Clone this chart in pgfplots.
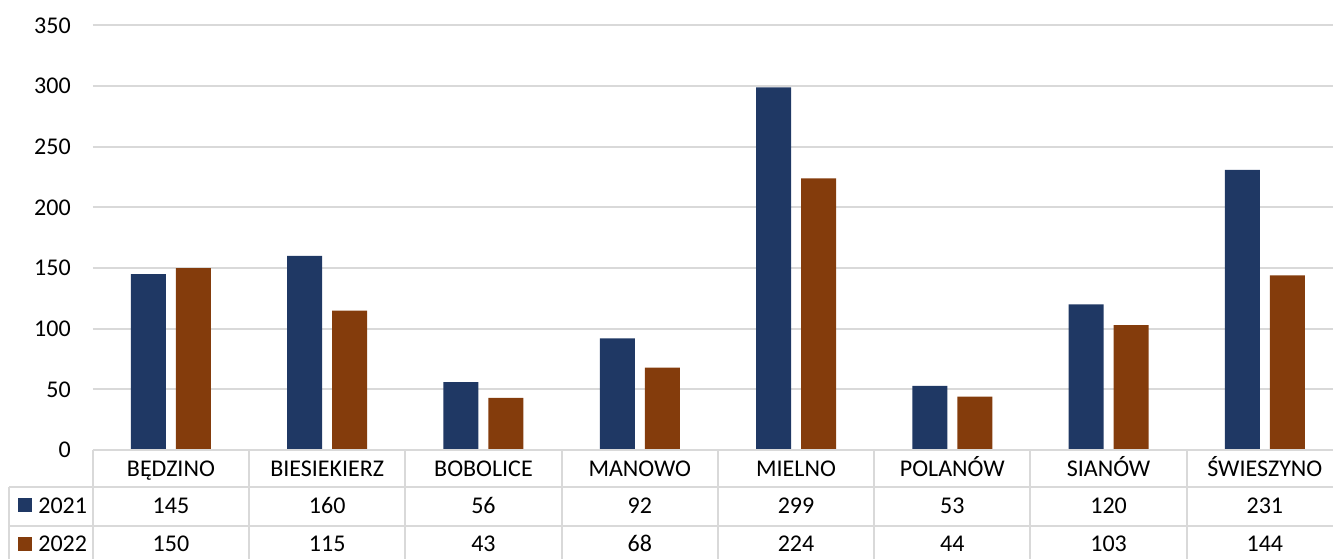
\documentclass[border=0pt]{standalone}
\usepackage{pgfplots}
\pgfplotsset{compat=1.18}
\usepackage{fontspec}
\setmainfont{Carlito}
\definecolor{blueS}{HTML}{1F3864}
\definecolor{brownS}{HTML}{843C0C}
\definecolor{gridc}{HTML}{D9D9D9}
\begin{document}
\begin{tikzpicture}[font=\fontsize{12}{14.4}\selectfont]
\begin{axis}[
  at={(0,0)}, anchor=south west,
  scale only axis, width=625.1pt, height=212.35pt,
  xmin=-0.5, xmax=7.5, ymin=0, ymax=350,
  ybar=5pt, bar width=17.5pt,
  axis line style={draw=none},
  major tick length=0pt,
  xtick=\empty,
  ytick={0,50,...,350},
  ymajorgrids,
  grid style={draw=gridc, line width=1pt},
  yticklabel style={anchor=east, xshift=-7.5pt},
  /pgf/number format/assume math mode=true,
]
\addplot[fill=blueS, draw=none] coordinates {(0,145) (1,160) (2,56) (3,92) (4,299) (5,53) (6,120) (7,231)};
\addplot[fill=brownS, draw=none] coordinates {(0,150) (1,115) (2,43) (3,68) (4,224) (5,44) (6,103) (7,144)};
\end{axis}
% table lines
\begin{scope}[draw=gridc, line width=1pt]
\draw (0,0) -- (625.1pt,0);
\draw (-41.65pt,-18.3pt) -- (625.1pt,-18.3pt);
\draw (-41.65pt,-37.8pt) -- (625.1pt,-37.8pt);
\draw (-41.65pt,-57.3pt) -- (625.1pt,-57.3pt);
\foreach \k in {0,...,8} \draw ({\k*78.1375pt},0) -- ({\k*78.1375pt},-57.3pt);
\draw (-41.65pt,-18.3pt) -- (-41.65pt,-57.3pt);
\end{scope}
% categories
\foreach \n [count=\i from 0] in {BĘDZINO,BIESIEKIERZ,BOBOLICE,MANOWO,MIELNO,POLANÓW,SIANÓW,ŚWIESZYNO}
  \node[anchor=base, inner sep=0pt] at ({(\i+0.5)*78.1375pt},-13.0pt) {\n};
\foreach \v [count=\i from 0] in {145,160,56,92,299,53,120,231}
  \node[anchor=base, inner sep=0pt] at ({(\i+0.5)*78.1375pt},-31.85pt) {\v};
\foreach \v [count=\i from 0] in {150,115,43,68,224,44,103,144}
  \node[anchor=base, inner sep=0pt] at ({(\i+0.5)*78.1375pt},-50.85pt) {\v};
% legend
\fill[blueS] (-37.4pt,-23.95pt) rectangle (-30.4pt,-30.95pt);
\node[anchor=base west, inner sep=0pt] at (-27.4pt,-31.85pt) {2021};
\fill[brownS] (-37.4pt,-43.45pt) rectangle (-30.4pt,-50.45pt);
\node[anchor=base west, inner sep=0pt] at (-27.4pt,-50.85pt) {2022};
\pgfresetboundingbox
\path[use as bounding box] (-46.4pt,-53.95pt) rectangle (620.1pt,225.05pt);
\end{tikzpicture}
\end{document}
